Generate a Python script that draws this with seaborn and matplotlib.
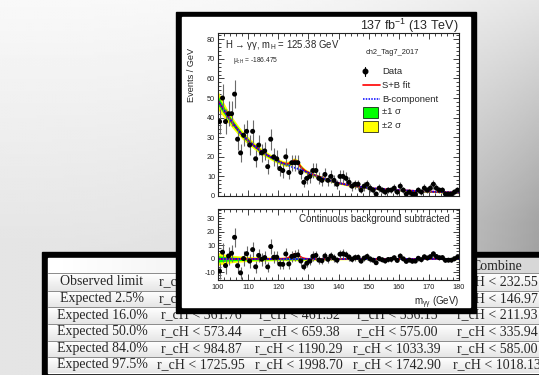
import numpy as np
import matplotlib
matplotlib.use("Agg")
import matplotlib.pyplot as plt
import seaborn as sns
from matplotlib.patches import Rectangle
from matplotlib.ticker import MultipleLocator

sns.set_theme(style="ticks")
plt.rcParams['font.family'] = ['Liberation Sans', 'DejaVu Sans']
plt.rcParams['mathtext.fontset'] = 'custom'
plt.rcParams['mathtext.rm'] = 'Liberation Sans'
plt.rcParams['mathtext.it'] = 'Liberation Sans:italic'
plt.rcParams['mathtext.bf'] = 'Liberation Sans:bold'
plt.rcParams['axes.unicode_minus'] = False

# ---------------- data ----------------
bin_centers = np.arange(100.5, 180.0, 1.0)
events = [38, 50, 38, 42, 42, 52, 29, 22, 31, 33,
          26, 33, 19, 26, 22, 23, 15, 29, 20, 19,
          14, 13, 20, 12, 17, 17, 17, 12, 7, 9,
          10, 13, 13, 9, 8, 11, 8, 10, 8, 6,
          10, 10, 9, 7, 5, 6, 6, 3, 5, 6,
          4, 3, 1, 4, 3, 2, 3, 3, 4, 2,
          5, 3, 1, 2, 1, 1, 3, 2, 4, 3,
          4, 6, 4, 3, 3, 1, 1, 1, 2, 3]
event_err = [6.2, 7.1, 6.2, 6.5, 6.5, 7.2, 5.4, 4.7, 5.6, 5.7,
             5.1, 5.7, 4.4, 5.1, 4.7, 4.8, 3.9, 5.4, 4.5, 4.4,
             3.7, 3.6, 4.5, 3.5, 4.1, 4.1, 4.1, 3.5, 2.6, 3.0,
             3.2, 3.6, 3.6, 3.0, 2.8, 3.3, 2.8, 3.2, 2.8, 2.4,
             3.2, 3.2, 3.0, 2.6, 2.2, 2.4, 2.4, 1.7, 2.2, 2.4,
             2.0, 1.7, 1.0, 2.0, 1.7, 1.4, 1.7, 1.7, 2.0, 1.4,
             2.2, 1.7, 1.0, 1.4, 1.0, 1.0, 1.7, 1.4, 2.0, 1.7,
             2.0, 2.4, 2.0, 1.7, 1.7, 1.0, 1.0, 1.0, 1.4, 1.7]
residual = [-9.0, 5.0, -4.9, 2.2, 4.2, 16.0, -5.0, -10.3, 0.3, 3.9,
            -1.6, 6.9, -5.8, 2.6, -0.2, 1.0, -5.9, 9.2, 1.2, 1.3,
            -3.8, -4.0, 3.7, -3.7, 1.9, 2.5, 3.0, -1.5, -5.9, -3.2,
            -1.6, 2.0, 2.6, -0.9, -1.3, 2.2, -0.3, 2.2, 0.7, -0.9,
            3.5, 3.8, 3.1, 1.4, -0.3, 1.0, 1.2, -1.6, 0.6, 1.8,
            0.0, -0.9, -2.8, 0.3, -0.6, -1.5, -0.4, -0.3, 0.9, -1.1,
            2.1, 0.1, -1.8, -0.8, -1.7, -1.6, 0.5, -0.5, 1.6, 0.7,
            1.7, 3.8, 1.8, 0.9, 1.0, -1.0, -0.9, -0.9, 0.2, 1.3]

fit_mass = [100, 101, 102, 103, 104, 105, 106, 107, 108, 109, 110,
            112, 114, 116, 118, 120,
            121, 122, 123, 124,
            124.5, 125, 125.5, 126, 126.5, 127, 127.5, 128,
            129, 130,
            132, 134, 136, 138, 140, 142, 144, 146, 148, 150,
            153, 156, 160, 164, 168, 172, 176, 180]
b_fit = [48.8, 46.2, 43.7, 41.3, 39.1, 37.0, 35.0, 33.1, 31.3, 29.7, 28.3,
         25.6, 23.2, 21.2, 19.4, 17.8,
         17.0, 16.4, 15.8, 15.2,
         14.9, 14.6, 14.4, 14.2, 13.9, 13.7, 13.4, 13.2,
         12.5, 11.9,
         10.7, 9.6, 8.5, 7.5, 6.7, 6.0, 5.4, 4.9, 4.5, 4.1,
         3.7, 3.4, 3.0, 2.7, 2.4, 2.15, 1.9, 1.7]
sb_fit = [48.8, 46.2, 43.7, 41.3, 39.1, 37.0, 35.0, 33.1, 31.3, 29.7, 28.3,
          25.6, 23.2, 21.2, 19.4, 17.85,
          17.1, 16.6, 16.4, 16.8,
          17.4, 18.0, 18.2, 17.8, 17.0, 15.9, 14.8, 14.0,
          12.7, 11.95,
          10.7, 9.6, 8.5, 7.5, 6.7, 6.0, 5.4, 4.9, 4.5, 4.1,
          3.7, 3.4, 3.0, 2.7, 2.4, 2.15, 1.9, 1.7]
sig_only = [0, 0, 0, 0, 0, 0, 0, 0, 0, 0, 0,
            0, 0, 0, 0, 0.05,
            0.1, 0.2, 0.6, 1.6,
            2.5, 3.4, 3.8, 3.6, 3.1, 2.2, 1.4, 0.8,
            0.2, 0.05,
            0, 0, 0, 0, 0, 0, 0, 0, 0, 0,
            0, 0, 0, 0, 0, 0, 0, 0]
bkg_sub = [0.0] * 48
band_2sig = [4.8, 4.2, 3.7, 3.3, 3.0, 2.7, 2.5, 2.3, 2.2, 2.0, 1.9,
             1.7, 1.6, 1.5, 1.4, 1.35,
             1.3, 1.3, 1.3, 1.3,
             1.3, 1.3, 1.3, 1.3, 1.3, 1.3, 1.25, 1.2,
             1.1, 1.05,
             0.95, 0.85, 0.8, 0.7, 0.65, 0.6, 0.55, 0.5, 0.5, 0.45,
             0.45, 0.4, 0.4, 0.4, 0.4, 0.4, 0.45, 0.5]
band_1sig = [2.4, 2.1, 1.85, 1.65, 1.5, 1.4, 1.3, 1.2, 1.1, 1.0, 0.95,
             0.85, 0.8, 0.75, 0.7, 0.68,
             0.65, 0.65, 0.65, 0.65,
             0.65, 0.65, 0.65, 0.65, 0.65, 0.65, 0.63, 0.6,
             0.55, 0.52,
             0.48, 0.43, 0.4, 0.35, 0.33, 0.3, 0.28, 0.25, 0.25, 0.23,
             0.23, 0.2, 0.2, 0.2, 0.2, 0.2, 0.23, 0.25]

# table contents
row_labels = ["Observed limit", "Expected 2.5%", "Expected 16.0%",
              "Expected 50.0%", "Expected 84.0%", "Expected 97.5%"]
col2_vals = [None, None, "361.76", "573.44", "984.87", "1725.95"]
col3_vals = [None, None, "461.52", "659.38", "1190.29", "1998.70"]
col4_vals = [None, None, "556.15", "575.00", "1033.39", "1742.90"]
col5_vals = ["232.55", "146.97", "211.93", "335.94", "585.00", "1018.13"]
col5_header = "Combine"

# ---------------- figure ----------------
W, H = 539, 375
fig = plt.figure(figsize=(W / 100, H / 100), dpi=100)
bg = fig.add_axes([0, 0, 1, 1], zorder=0)
bg.set_xlim(0, W)
bg.set_ylim(H, 0)
bg.axis('off')

# page background gradient
yy, xx = np.mgrid[0:H:3, 0:W:3]
shade = (0.975 - 0.26 * (xx / W) ** 3 * (0.3 + 0.7 * np.clip(yy / 220, 0, 1))
         - 0.08 * np.clip(yy / 250, 0, 1))
bg.imshow(shade, cmap='gray', vmin=0, vmax=1, extent=(0, W, H, 0),
          aspect='auto', zorder=0, interpolation='bilinear')

# table
serif = ['Liberation Serif', 'DejaVu Serif']
bg.add_patch(Rectangle((42, 252), 520, 130, color='black', zorder=1))
bg.add_patch(Rectangle((48, 258), 520, 115, color='white', zorder=1.1))
rows = [258, 273, 291, 307, 324, 341, 357, 373]
hgrad = np.linspace(1.0, 0.84, 100)[None, :]
bg.imshow(hgrad, cmap='gray', vmin=0, vmax=1, extent=(48, 539, 273, 258),
          aspect='auto', zorder=1.2)
for k in range(6):
    vgrad = np.linspace(1.0, 0.9, 20)[:, None]
    bg.imshow(vgrad, cmap='gray', vmin=0, vmax=1,
              extent=(48, 539, rows[k + 2], rows[k + 1]),
              aspect='auto', zorder=1.2)
for yl in rows[1:-1]:
    bg.plot([48, 539], [yl, yl], color='#8a8a8a', lw=0.7, zorder=1.3)

fs_tab = 10
bg.text(497, 266, col5_header, ha='center', va='center', fontsize=fs_tab,
        family=serif, zorder=1.4)
for k in range(6):
    yc = (rows[k + 1] + rows[k + 2]) / 2 - 0.5
    bg.text(102, yc, row_labels[k], ha='center', va='center', fontsize=fs_tab,
            family=serif, zorder=1.4)
    for xc, vals in ((201, col2_vals), (299, col3_vals), (397, col4_vals), (497, col5_vals)):
        if vals[k] is None:
            if xc == 201:
                bg.text(159, yc, "r_cH <", ha='left', va='center',
                        fontsize=fs_tab, family=serif, zorder=1.4)
            continue
        bg.text(xc, yc, "r_cH < " + vals[k], ha='center', va='center',
                fontsize=fs_tab, family=serif, zorder=1.4)

# plot window
bg.add_patch(Rectangle((176, 12), 300, 301, color='black', zorder=5))
bg.add_patch(Rectangle((182, 17), 288, 290, color='white', zorder=5.1))

# window texts
bg.text(459, 30, r"137 fb$^{-1}$ (13 TeV)", ha='right', va='baseline',
        fontsize=9, zorder=6)
bg.text(191, 75, "Events / GeV", rotation=90, ha='center', va='center',
        fontsize=6.6, zorder=6)
bg.text(225, 45, r"H → γγ, m$_{\mathrm{H}}$ = 125.38 GeV", ha='left',
        va='center', fontsize=6.9, zorder=6)
bg.text(233, 61, r"$\mathrm{\mu}_{\mathrm{cH}}$ = -186.475", ha='left',
        va='center', fontsize=4.8, zorder=6)
bg.text(366, 53, "ch2_Tag7_2017", ha='left', va='center', fontsize=5.4, zorder=6)
# legend glyphs
bg.plot([365, 365], [66.5, 75.5], color='black', lw=0.8, zorder=6)
bg.plot([365], [71], 'o', ms=3.3, color='black', zorder=6)
bg.plot([363, 380], [85, 85], color='red', lw=1.2, zorder=6)
bg.plot([363, 380], [99, 99], color='blue', lw=1.1, ls=(0, (1, 0.8)), zorder=6)
bg.add_patch(Rectangle((363, 106.5), 15, 11, fc='#00ff00', ec='black', lw=0.5, zorder=6))
bg.add_patch(Rectangle((363, 120.5), 15, 11, fc='#ffff00', ec='black', lw=0.5, zorder=6))
fs_leg = 6.8
for yv, t in ((71, "Data"), (85, "S+B fit"), (99, "B-component"),
              (112, "±1 σ"), (126, "±2 σ")):
    bg.text(382, yv, t, ha='left', va='center', fontsize=fs_leg, zorder=6)
bg.text(450, 219, "Continuous background subtracted", ha='right', va='center',
        fontsize=7, zorder=6)
bg.text(459, 303, r"m$_{\mathrm{γγ}}$ (GeV)", ha='right', va='center',
        fontsize=7, zorder=6)

fit_mass_a = np.array(fit_mass)


def style_axes(ax, ymaj, ymin):
    ax.set_facecolor('none')
    ax.set_xlim(100, 180)
    ax.xaxis.set_major_locator(MultipleLocator(10))
    ax.xaxis.set_minor_locator(MultipleLocator(2))
    ax.yaxis.set_major_locator(MultipleLocator(ymaj))
    ax.yaxis.set_minor_locator(MultipleLocator(ymin))
    ax.tick_params(which='both', direction='in', top=True, right=True,
                   width=0.6, colors='#222', labelsize=5.3, pad=2)
    ax.tick_params(which='major', length=4)
    ax.tick_params(which='minor', length=2)
    for s in ax.spines.values():
        s.set_linewidth(0.8)
        s.set_color('#222')
        s.set_visible(True)
    ax.set_xlabel('')
    ax.set_ylabel('')
    ax.grid(False)


# upper panel
ax1 = fig.add_axes([218 / W, 1 - 196 / H, 241 / W, 163 / H], zorder=2)
sbv = np.array(sb_fit)
ax1.fill_between(fit_mass_a, sbv - np.array(band_2sig), sbv + np.array(band_2sig),
                 color='#ffff00', lw=0, zorder=1)
ax1.fill_between(fit_mass_a, sbv - np.array(band_1sig), sbv + np.array(band_1sig),
                 color='#00ff00', lw=0, zorder=1.1)
sns.lineplot(x=fit_mass, y=sb_fit, ax=ax1, color='red', lw=1.3, zorder=2)
sns.lineplot(x=fit_mass, y=b_fit, ax=ax1, color='blue', lw=1.3,
             linestyle=(0, (1, 0.6)), zorder=2.1)
ax1.errorbar(bin_centers, events, yerr=event_err, fmt='none', ecolor='#6a6a6a',
             elinewidth=0.8, zorder=3)
sns.scatterplot(x=bin_centers, y=events, ax=ax1, color='black', s=13,
                edgecolor='none', zorder=4)
style_axes(ax1, 10, 2)
ax1.set_ylim(0, 83.2)
ax1.set_xticklabels([])
ax1.set_yticks([0, 10, 20, 30, 40, 50, 60, 70, 80])

# lower panel
ax2 = fig.add_axes([218 / W, 1 - 280 / H, 241 / W, 71 / H], zorder=2)
zero = np.array(bkg_sub)
ax2.fill_between(fit_mass_a, zero - np.array(band_2sig), zero + np.array(band_2sig),
                 color='#ffff00', lw=0, zorder=1)
ax2.fill_between(fit_mass_a, zero - np.array(band_1sig), zero + np.array(band_1sig),
                 color='#00ff00', lw=0, zorder=1.1)
sns.lineplot(x=fit_mass, y=sig_only, ax=ax2, color='red', lw=1.3, zorder=2)
sns.lineplot(x=fit_mass, y=bkg_sub, ax=ax2, color='blue', lw=1.3,
             linestyle=(0, (1, 0.6)), zorder=2.1)
ax2.errorbar(bin_centers, residual, yerr=event_err, fmt='none', ecolor='#6a6a6a',
             elinewidth=0.8, zorder=3)
sns.scatterplot(x=bin_centers, y=residual, ax=ax2, color='black', s=13,
                edgecolor='none', zorder=4)
style_axes(ax2, 10, 2)
ax2.set_ylim(-15.6, 37)
ax2.set_yticks([-10, 0, 10, 20, 30])
ax2.tick_params(axis='x', pad=3)

fig.savefig("out.png", dpi=100)
